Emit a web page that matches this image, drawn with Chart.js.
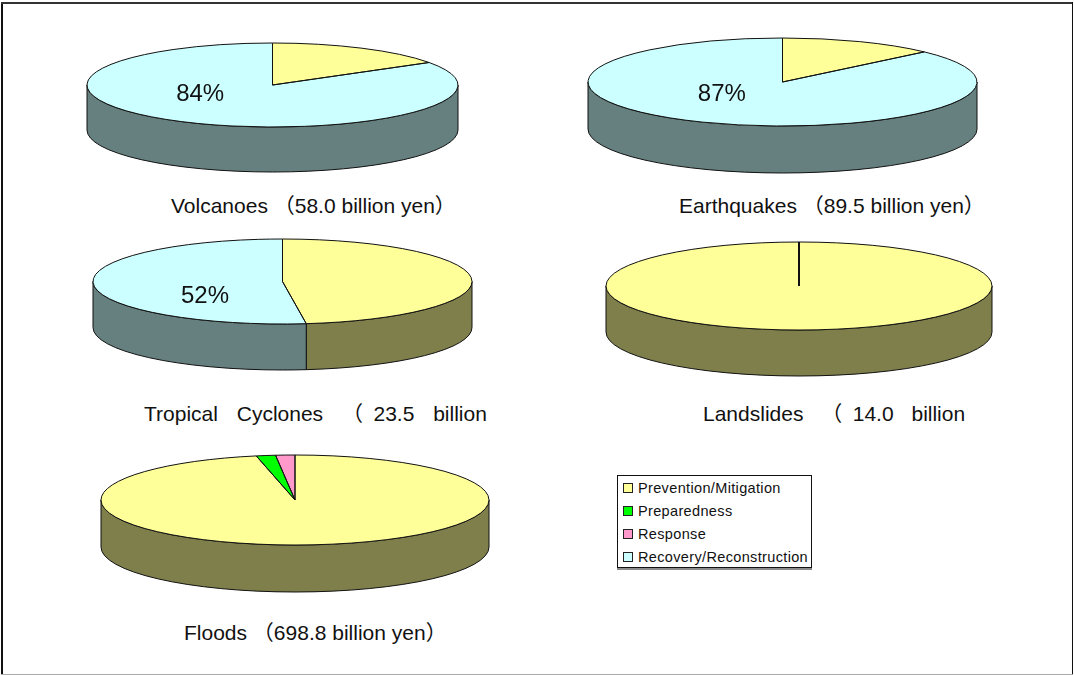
<!DOCTYPE html>
<html>
<head>
<meta charset="utf-8">
<title>Damage cost by disaster type</title>
<script src="https://cdn.jsdelivr.net/npm/chart.js@4/dist/chart.umd.min.js"></script>
<style>
    html, body { margin: 0; padding: 0; background: #fff; }
    body { position: relative; width: 1074px; height: 675px; overflow: hidden; font-family: "Liberation Sans", "Noto Sans CJK JP", sans-serif; color: #111; }
    canvas { position: absolute; }
    .edge { position: absolute; }
    .caption { position: absolute; white-space: nowrap; font-size: 21px; line-height: 20px; }
    #legend { position: absolute; left: 617px; top: 475px; width: 195px; height: 93px; box-sizing: border-box; border: 1px solid #111; box-shadow: 0 2px 0 #8c8c8c; background: #fff; }
    .legend-row { position: absolute; left: 5px; height: 16px; line-height: 16px; font-size: 14.5px; letter-spacing: 0.35px; white-space: nowrap; }
    .legend-swatch { display: inline-block; width: 8px; height: 8px; border: 1px solid #222; margin-right: 5px; }
</style>
</head>
<body>

<div class="edge" style="left:1px;top:2px;width:2px;height:672px;background:#111"></div>
<div class="edge" style="left:1px;top:2px;width:1072px;height:2px;background:#333"></div>
<div class="edge" style="left:1072px;top:2px;width:1px;height:672px;background:#111"></div>
<div class="edge" style="left:1px;top:674px;width:1072px;height:1px;background:#aaa"></div>

<div id="legend"></div>

<script>
var categories = ['Prevention/Mitigation', 'Preparedness', 'Response', 'Recovery/Reconstruction'];

var volcanoes = [16, 0, 0, 84];
var earthquakes = [13, 0, 0, 87];
var tropicalCyclones = [48, 0, 0, 52];
var landslides = [100, 0, 0, 0];
var floods = [96.8, 1.6, 1.6, 0];

var topColors = ['#FFFF99', '#00FF00', '#FF99CC', '#CCFFFF'];
var sideColors = ['#7F7F4C', '#007F00', '#7F4C66', '#667F7F'];

// box = where the canvas sits on the page, the pie fills it minus the wall depth
var pies = [
    { values: volcanoes, percent: 3, labelAt: [-0.39, 0.23], box: [85, 41, 375, 133], depth: 45,
      caption: 'Volcanoes （58.0 billion yen）', capX: 171, capY: 196, spacing: 0 },
    { values: earthquakes, percent: 3, labelAt: [-0.312, 0.27], box: [586, 36, 393, 139], depth: 47,
      caption: 'Earthquakes （89.5 billion yen）', capX: 679, capY: 196, spacing: 0 },
    { values: tropicalCyclones, percent: 3, labelAt: [-0.409, 0.346], box: [91, 237, 383, 135], depth: 46,
      caption: 'Tropical Cyclones （\u200223.5 billion', capX: 144, capY: 404, spacing: 13 },
    { values: landslides, percent: -1, box: [604, 240, 390, 138], depth: 46,
      caption: 'Landslides （\u200214.0 billion', capX: 703, capY: 404, spacing: 12 },
    { values: floods, percent: -1, box: [99, 453, 392, 141], depth: 47,
      caption: 'Floods （698.8 billion yen）', capX: 184, capY: 623, spacing: 0 }
];

var margin = 2;

function ellipseOf(chart, pie) {
    var rx = chart.width / 2 - margin;
    var ry = (chart.height - pie.depth) / 2 - margin;
    return { cx: chart.width / 2, cy: margin + ry, rx: rx, ry: ry };
}

// squashes the library's round pie into a tilted disc and adds the wall below it
var discPlugin = {
    id: 'disc',
    beforeDatasetDraw: function (chart, args, opts) {
        var pie = opts.pie;
        var ctx = chart.ctx;
        var e = ellipseOf(chart, pie);
        var arcs = chart.getDatasetMeta(0).data;

        ctx.lineWidth = 1;
        ctx.strokeStyle = '#111';
        arcs.forEach(function (arc, i) {
            var a = Math.max(arc.startAngle, 0);
            var b = Math.min(arc.endAngle, Math.PI);
            if (arc.circumference === 0 || b <= a) return;
            ctx.beginPath();
            ctx.ellipse(e.cx, e.cy, e.rx, e.ry, 0, a, b);
            ctx.ellipse(e.cx, e.cy + pie.depth, e.rx, e.ry, 0, b, a, true);
            ctx.closePath();
            ctx.fillStyle = sideColors[i];
            ctx.fill();
            ctx.stroke();
        });

        ctx.save();
        var first = arcs[0];
        ctx.translate(e.cx, e.cy);
        ctx.scale(e.rx / first.outerRadius, e.ry / first.outerRadius);
        ctx.translate(-first.x, -first.y);
    },
    afterDatasetDraw: function (chart, args, opts) {
        var pie = opts.pie;
        var ctx = chart.ctx;
        var e = ellipseOf(chart, pie);
        ctx.restore();

        // outlines are stroked here so the squash does not thin them
        ctx.strokeStyle = '#111';
        chart.getDatasetMeta(0).data.forEach(function (arc) {
            if (arc.circumference === 0) return;
            // a slice taking the whole pie shows its seam as a heavier line
            var whole = arc.circumference >= Math.PI * 2 - 0.001;
            ctx.lineWidth = 1;
            ctx.beginPath();
            ctx.ellipse(e.cx, e.cy, e.rx, e.ry, 0, arc.startAngle, arc.endAngle);
            if (!whole) {
                ctx.lineTo(e.cx, e.cy);
                ctx.closePath();
            }
            ctx.stroke();
            if (whole) {
                ctx.lineWidth = 2;
                ctx.beginPath();
                ctx.moveTo(e.cx, e.cy);
                ctx.lineTo(e.cx, e.cy - e.ry);
                ctx.stroke();
            }
        });

        if (pie.percent >= 0) {
            ctx.fillStyle = '#111';
            ctx.font = '24px "Liberation Sans"';
            ctx.textAlign = 'center';
            ctx.textBaseline = 'middle';
            ctx.fillText(pie.values[pie.percent] + '%', e.cx + pie.labelAt[0] * e.rx, e.cy + pie.labelAt[1] * e.ry);
        }
    }
};

function addPie(pie) {
    var canvas = document.createElement('canvas');
    canvas.width = pie.box[2];
    canvas.height = pie.box[3];
    canvas.style.left = pie.box[0] + 'px';
    canvas.style.top = pie.box[1] + 'px';
    document.body.appendChild(canvas);

    new Chart(canvas.getContext('2d'), {
        type: 'pie',
        data: {
            labels: categories,
            datasets: [{
                data: pie.values,
                backgroundColor: topColors,
                borderWidth: 0,
                clip: false
            }]
        },
        options: {
            responsive: false,
            animation: false,
            devicePixelRatio: 1,
            layout: { padding: 0 },
            plugins: {
                legend: { display: false },
                tooltip: { enabled: false },
                disc: { pie: pie }
            }
        },
        plugins: [discPlugin]
    });

    var cap = document.createElement('div');
    cap.className = 'caption';
    cap.textContent = pie.caption;
    cap.style.left = pie.capX + 'px';
    cap.style.top = pie.capY + 'px';
    cap.style.wordSpacing = pie.spacing + 'px';
    document.body.appendChild(cap);
}

pies.forEach(addPie);

var legend = document.getElementById('legend');
var legendTops = [4, 27, 50, 73];
categories.forEach(function (name, i) {
    var row = document.createElement('div');
    row.className = 'legend-row';
    row.style.top = legendTops[i] + 'px';
    row.innerHTML = '<span class="legend-swatch" style="background:' + topColors[i] + '"></span>' + name;
    legend.appendChild(row);
});
</script>
</body>
</html>
